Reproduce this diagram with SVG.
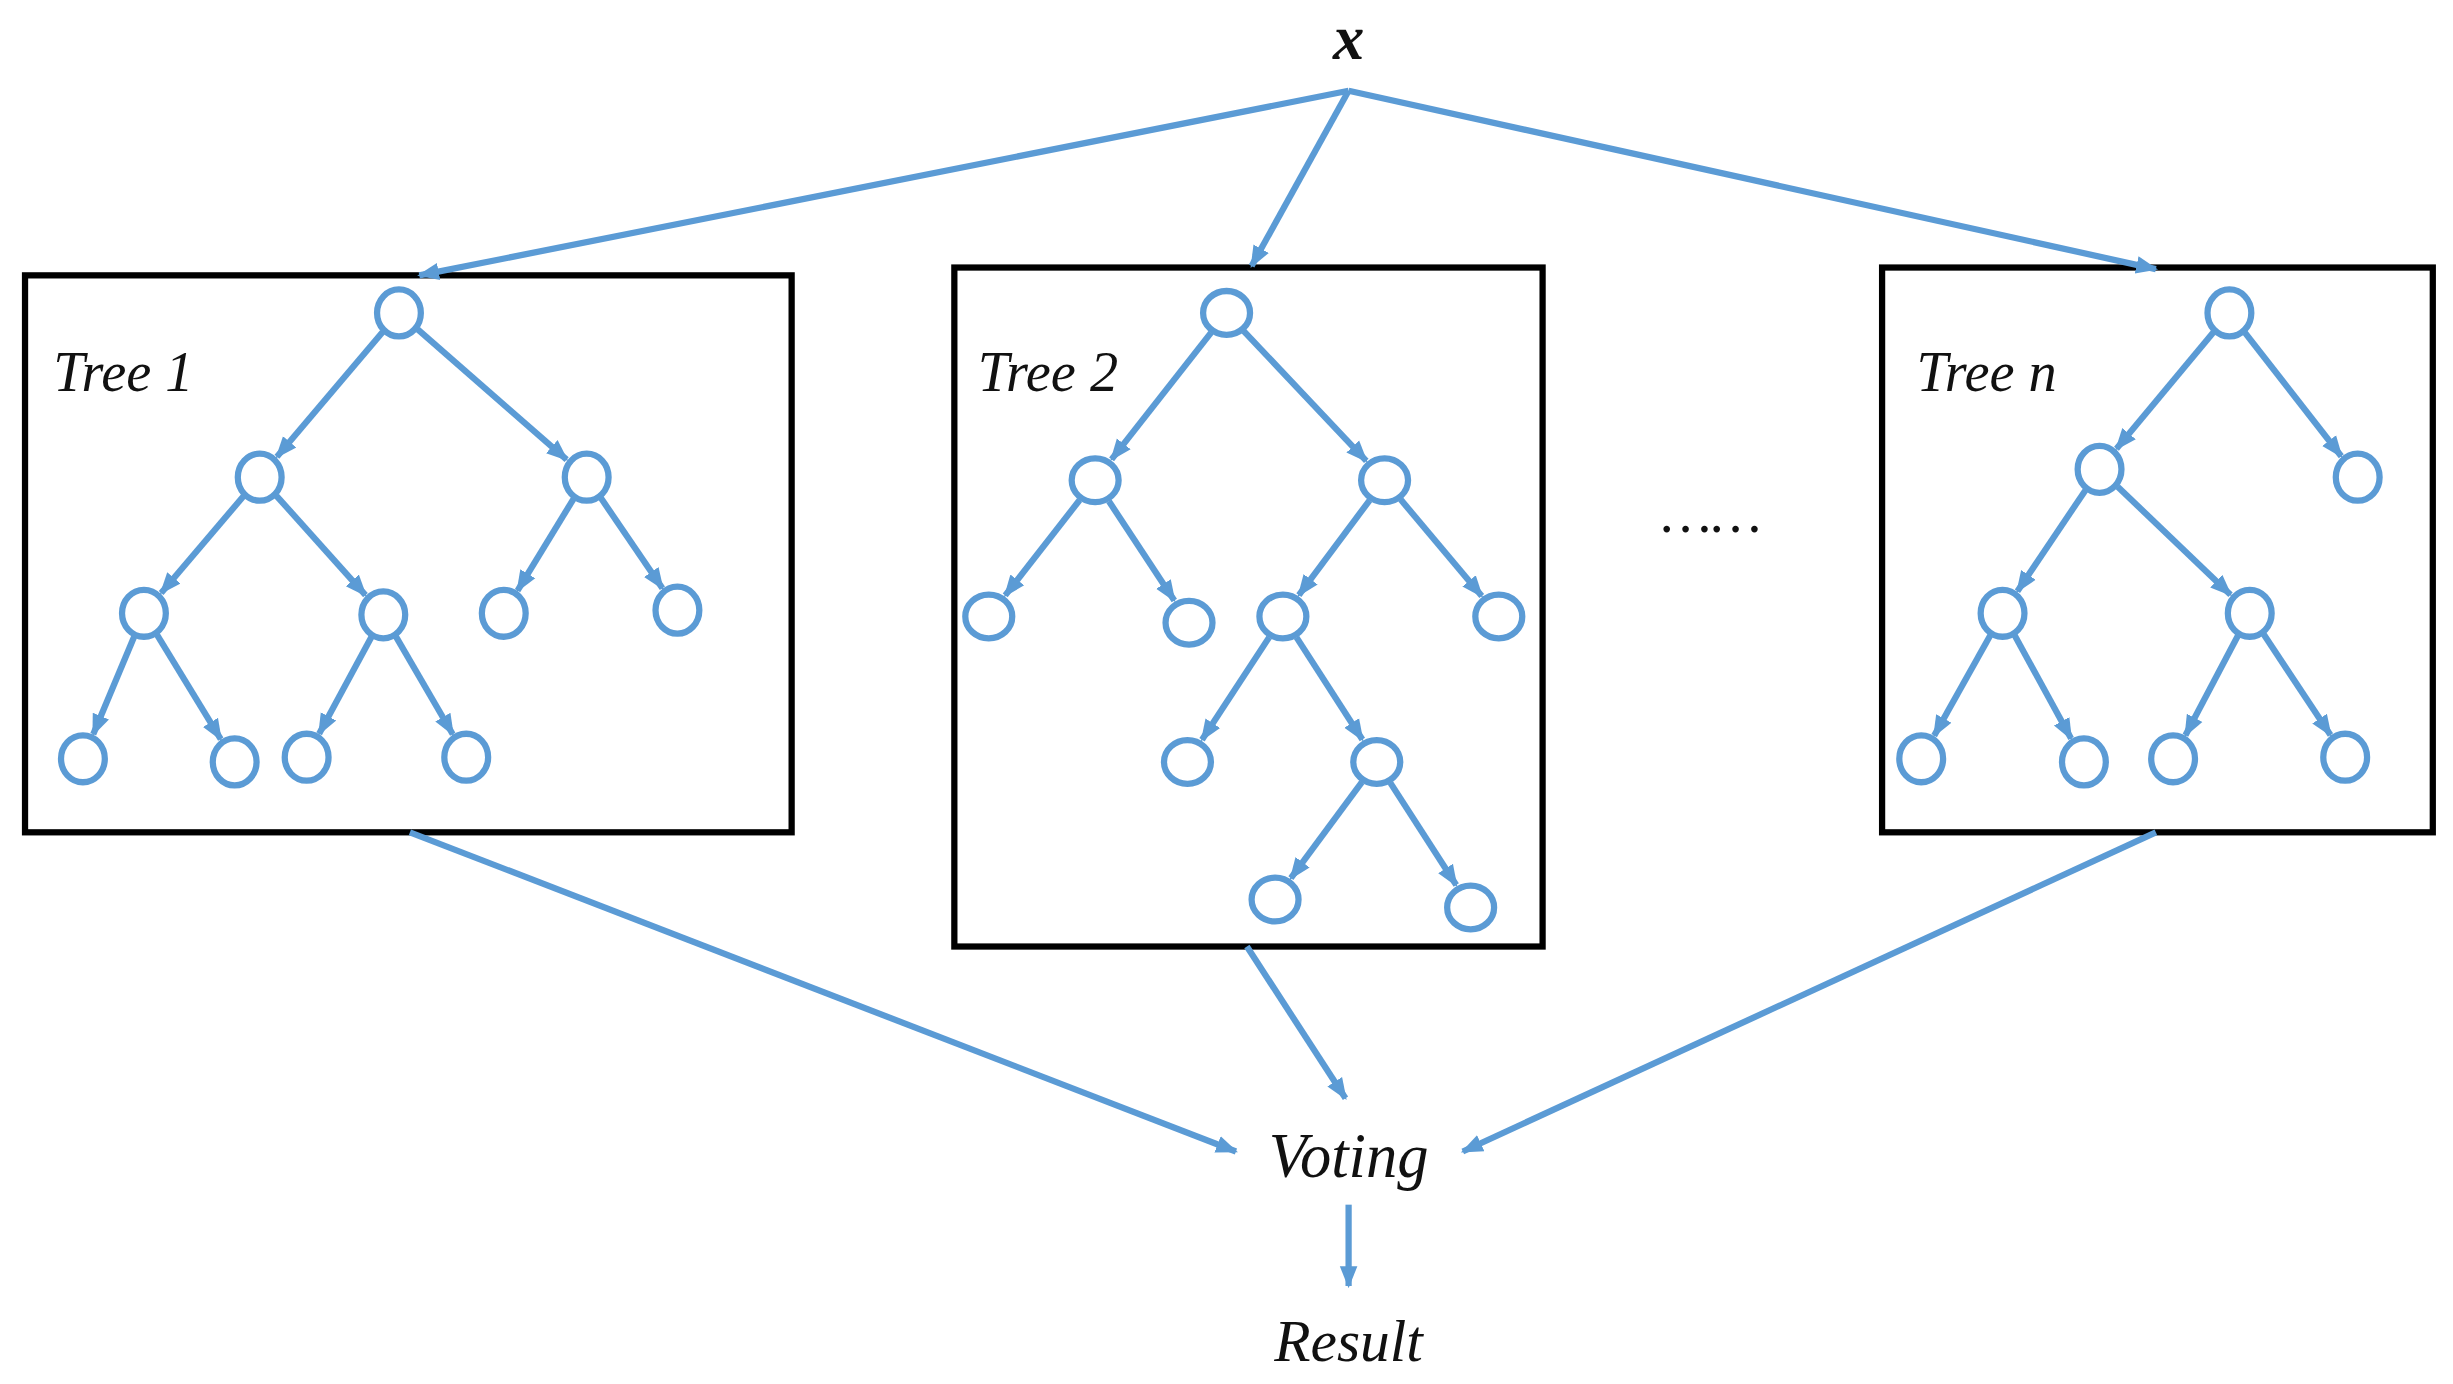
<svg xmlns="http://www.w3.org/2000/svg" width="2453" height="1384" viewBox="0 0 2453 1384">
<defs>
<marker id="ah" markerUnits="userSpaceOnUse" markerWidth="14" markerHeight="14" viewBox="0 0 10 10" refX="9" refY="5" orient="auto"><path d="M0,1 L10,5 L0,9 Z" fill="#5B9BD5"/></marker>
<style>
.box{fill:none;stroke:#000;stroke-width:4}
.n{fill:#fff;stroke:#5B9BD5;stroke-width:4}
.e{stroke:#5B9BD5;stroke-width:4;fill:none;marker-end:url(#ah)}
.t{font-family:"Liberation Serif",serif;font-style:italic;fill:#111}
</style>
</defs>
<rect width="2453" height="1384" fill="#fff"/>
<g transform="scale(1.5645)">
<text class="t" x="862" y="38" font-size="40" font-weight="bold" text-anchor="middle">x</text>
<g id="tree1">
<rect class="box" x="16" y="176" width="490" height="356"/>
<text class="t" x="34" y="250" font-size="36">Tree 1</text>
<g>
<line class="e" x1="244.6" y1="212.2" x2="177" y2="292"/>
<line class="e" x1="267" y1="210.5" x2="362.2" y2="293.8"/>
<line class="e" x1="155.6" y1="317.2" x2="103" y2="379"/>
<line class="e" x1="176.7" y1="316.9" x2="233.6" y2="380.4"/>
<line class="e" x1="366.7" y1="318.7" x2="330.8" y2="377.5"/>
<line class="e" x1="384" y1="318.2" x2="423.4" y2="376"/>
<line class="e" x1="85.8" y1="406.8" x2="59.6" y2="469.3"/>
<line class="e" x1="100.3" y1="405.7" x2="141.1" y2="472.5"/>
<line class="e" x1="237.4" y1="407.1" x2="204" y2="469"/>
<line class="e" x1="253" y1="406.8" x2="289.4" y2="469.3"/>
</g>
<ellipse class="n" cx="255" cy="200" rx="14" ry="15"/>
<ellipse class="n" cx="166" cy="305" rx="14" ry="15"/>
<ellipse class="n" cx="375" cy="305" rx="14" ry="15"/>
<ellipse class="n" cx="92" cy="392" rx="14" ry="15"/>
<ellipse class="n" cx="245" cy="393" rx="14" ry="15"/>
<ellipse class="n" cx="322" cy="392" rx="14" ry="15"/>
<ellipse class="n" cx="433" cy="390" rx="14" ry="15"/>
<ellipse class="n" cx="53" cy="485" rx="14" ry="15"/>
<ellipse class="n" cx="150" cy="487" rx="14" ry="15"/>
<ellipse class="n" cx="196" cy="484" rx="14" ry="15"/>
<ellipse class="n" cx="298" cy="484" rx="14" ry="15"/>
</g>
<g id="tree2">
<rect class="box" x="610" y="171" width="376" height="434"/>
<text class="t" x="625" y="250" font-size="36">Tree 2</text>
<g>
<line class="e" x1="774.1" y1="212.6" x2="710.5" y2="293.6"/>
<line class="e" x1="795" y1="211.6" x2="873.3" y2="294.6"/>
<line class="e" x1="690.1" y1="319.6" x2="642.5" y2="380.6"/>
<line class="e" x1="708.8" y1="320.4" x2="750.6" y2="383.8"/>
<line class="e" x1="875.4" y1="319.8" x2="830.2" y2="380.4"/>
<line class="e" x1="895.3" y1="319.3" x2="947.1" y2="381"/>
<line class="e" x1="811.2" y1="407.4" x2="768.3" y2="472.8"/>
<line class="e" x1="828.7" y1="407.4" x2="870.8" y2="472.7"/>
<line class="e" x1="870.5" y1="499.9" x2="825.1" y2="561.3"/>
<line class="e" x1="888.7" y1="500.4" x2="930.8" y2="565.7"/>
</g>
<ellipse class="n" cx="784" cy="200" rx="15" ry="14"/>
<ellipse class="n" cx="700" cy="307" rx="15" ry="14"/>
<ellipse class="n" cx="885" cy="307" rx="15" ry="14"/>
<ellipse class="n" cx="632" cy="394" rx="15" ry="14"/>
<ellipse class="n" cx="760" cy="398" rx="15" ry="14"/>
<ellipse class="n" cx="820" cy="394" rx="15" ry="14"/>
<ellipse class="n" cx="958" cy="394" rx="15" ry="14"/>
<ellipse class="n" cx="759" cy="487" rx="15" ry="14"/>
<ellipse class="n" cx="880" cy="487" rx="15" ry="14"/>
<ellipse class="n" cx="815" cy="575" rx="15" ry="14"/>
<ellipse class="n" cx="940" cy="580" rx="15" ry="14"/>
</g>
<text class="t" x="1094" y="340" font-size="36" text-anchor="middle">……</text>
<g id="treen">
<rect class="box" x="1203" y="171" width="352" height="361"/>
<text class="t" x="1225" y="250" font-size="36">Tree n</text>
<g>
<line class="e" x1="1414.8" y1="212.3" x2="1352.8" y2="286.9"/>
<line class="e" x1="1434.9" y1="212.6" x2="1496.5" y2="291.6"/>
<line class="e" x1="1333" y1="313.3" x2="1289.5" y2="377.9"/>
<line class="e" x1="1353.6" y1="311.1" x2="1425.7" y2="380.2"/>
<line class="e" x1="1272.2" y1="406" x2="1236.3" y2="470.2"/>
<line class="e" x1="1287.7" y1="406" x2="1323.8" y2="472.1"/>
<line class="e" x1="1430.5" y1="406.2" x2="1396.9" y2="470"/>
<line class="e" x1="1446.8" y1="405.3" x2="1489.6" y2="469.8"/>
</g>
<ellipse class="n" cx="1425" cy="200" rx="14" ry="15"/>
<ellipse class="n" cx="1342" cy="300" rx="14" ry="15"/>
<ellipse class="n" cx="1507" cy="305" rx="14" ry="15"/>
<ellipse class="n" cx="1280" cy="392" rx="14" ry="15"/>
<ellipse class="n" cx="1438" cy="392" rx="14" ry="15"/>
<ellipse class="n" cx="1228" cy="485" rx="14" ry="15"/>
<ellipse class="n" cx="1332" cy="487" rx="14" ry="15"/>
<ellipse class="n" cx="1389" cy="485" rx="14" ry="15"/>
<ellipse class="n" cx="1499" cy="484" rx="14" ry="15"/>
</g>
<g id="voting"><text class="t" x="862" y="752" font-size="40" text-anchor="middle">Voting</text></g>
<g id="result"><text class="t" x="862" y="870" font-size="38" text-anchor="middle">Result</text></g>
<g id="connectors">
<line class="e" x1="862" y1="58" x2="268" y2="176"/>
<line class="e" x1="862" y1="58" x2="800" y2="170"/>
<line class="e" x1="862" y1="58" x2="1378" y2="172"/>
<line class="e" x1="262" y1="532" x2="790" y2="736"/>
<line class="e" x1="797" y1="605" x2="860" y2="702"/>
<line class="e" x1="1378" y1="532" x2="935" y2="736"/>
<line class="e" x1="862" y1="770" x2="862" y2="822"/>
</g>
</g>
</svg>
